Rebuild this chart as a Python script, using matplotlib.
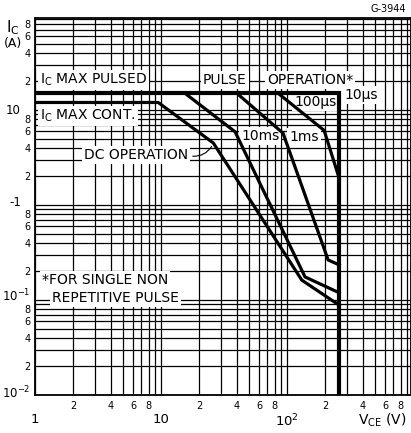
import numpy as np
import matplotlib
matplotlib.use('Agg')
import matplotlib.pyplot as plt
from matplotlib.ticker import FixedLocator, FixedFormatter, NullFormatter

plt.rcParams['font.family'] = ['DejaVu Sans']
plt.rcParams['mathtext.default'] = 'regular'

# --- data (V in volts, I in amps) ---
v_max = 260          # Vce limit (10 us line)
ic_pulsed = 15       # Ic max pulsed
ic_cont = 12         # Ic max continuous

dc_v = [1, 9.5, 26, 131, v_max]
dc_i = [ic_cont, ic_cont, 4.5, 0.162, 0.088]

ms10_v = [15.5, 38.7, 139, v_max]
ms10_i = [ic_pulsed, 5.9, 0.175, 0.119]

ms1_v = [40, 93, 212, v_max]
ms1_i = [ic_pulsed, 5.7, 0.264, 0.234]

us100_v = [85, 197, v_max]
us100_i = [ic_pulsed, 6.1, 1.9]

us10_v = [1, v_max, v_max]
us10_i = [ic_pulsed, ic_pulsed, 0.01]

x_major = [1, 10, 100]
x_major_lbl = ['1', '10', '$10^2$']
y_major = [0.01, 0.1, 1, 10]
y_major_lbl = ['$10^{-2}$', '$10^{-1}$', '-1', '10']
minor_marks = [2, 4, 6, 8]

# figure geometry (pixels of the 411x433 original)
W, H = 411, 433
X0, Y0, PX_DEC_X, PX_DEC_Y = 35, 395, 126, 95


def at(px, py):
    # pixel position in the original -> data coords (for placing labels)
    return 10 ** ((px - X0) / PX_DEC_X), 0.01 * 10 ** ((Y0 - py) / PX_DEC_Y)


fig = plt.figure(figsize=(W / 100, H / 100), dpi=100)
ax = fig.add_axes([X0 / W, (H - Y0) / H, (W - X0) / W, (Y0 - 18) / H])
ax.set_xscale('log')
ax.set_yscale('log')
ax.set_xlim(1, 10 ** ((W - X0) / PX_DEC_X))
ax.set_ylim(0.01, 0.01 * 10 ** ((Y0 - 18) / PX_DEC_Y))

# full log grid
for dec in [1, 10, 100]:
    for k in range(1, 10):
        ax.axvline(dec * k, color='black', lw=0.9, zorder=1)
for dec in [0.01, 0.1, 1, 10]:
    for k in range(1, 10):
        ax.axhline(dec * k, color='black', lw=0.9, zorder=1)

# tick labels
ax.xaxis.set_major_locator(FixedLocator(x_major))
ax.xaxis.set_major_formatter(FixedFormatter(x_major_lbl))
x_minor = [d * m for d in [1, 10, 100] for m in minor_marks]
ax.xaxis.set_minor_locator(FixedLocator(x_minor))
ax.xaxis.set_minor_formatter(FixedFormatter([str(m) for m in minor_marks] * 3))
y_minor = [d * m for d in [0.01, 0.1, 1, 10] for m in minor_marks]
ax.yaxis.set_major_locator(FixedLocator(y_major))
ax.yaxis.set_major_formatter(NullFormatter())
ax.yaxis.set_minor_locator(FixedLocator(y_minor))
ax.yaxis.set_minor_formatter(FixedFormatter([str(m) for m in minor_marks] * 4))
ax.tick_params(which='both', length=0)
ax.tick_params(axis='x', which='major', pad=13, labelsize=9.5)
ax.tick_params(axis='x', which='minor', pad=4, labelsize=7)
ax.tick_params(axis='y', which='minor', pad=3, labelsize=7)
for s in ax.spines.values():
    s.set_linewidth(1.3)

# major y labels sit left of the small ones, as on the sheet
y_lbl_pos = [(30, 393), (30, 296), (21, 203), (21, 111)]
for lbl, (px, py) in zip(y_major_lbl, y_lbl_pos):
    fig.text(px / W, 1 - py / H, lbl, fontsize=8.5, ha='right', va='center')

# SOA curves
lw = 2.3
ax.plot(us10_v, us10_i, color='black', lw=3.0, zorder=4, solid_joinstyle='miter')
ax.plot(dc_v, dc_i, color='black', lw=lw, zorder=4)
ax.plot(ms10_v, ms10_i, color='black', lw=lw, zorder=4)
ax.plot(ms1_v, ms1_i, color='black', lw=lw, zorder=4)
ax.plot(us100_v, us100_i, color='black', lw=lw, zorder=4)

box = dict(facecolor='white', edgecolor='none', pad=1.5)
fs = 10
labels = [
    ('I$_C$ MAX PULSED', 40, 80),
    ('I$_C$ MAX CONT.', 40, 116),
    ('PULSE', 203, 80),
    ('OPERATION*', 267, 80),
    ('100\u03bcs', 294, 102),
    ('10\u03bcs', 344, 95),
    ('10ms', 241, 136),
    ('1ms', 289, 137),
    ('DC OPERATION', 84, 155),
    ('*FOR SINGLE NON', 42, 280),
    ('REPETITIVE PULSE', 52, 298),
]
for txt, px, py in labels:
    ax.text(*at(px, py), txt, fontsize=fs, va='center', ha='left', bbox=box, zorder=3)

ax.annotate('', xy=at(213, 144), xytext=at(190, 156),
            arrowprops=dict(arrowstyle='-', color='black', lw=0.8,
                            connectionstyle='arc3,rad=0.35'), zorder=3)

# axis titles drawn as free text like the original sheet
fig.text(6 / W, 1 - 28 / H, 'I$_C$', fontsize=11, ha='left', va='center')
fig.text(4 / W, 1 - 44 / H, '(A)', fontsize=9, ha='left', va='center')
fig.text(406 / W, 1 - 420 / H, 'V$_{CE}$ (V)', fontsize=10, ha='right', va='center')
fig.text(406 / W, 1 - 9 / H, 'G-3944', fontsize=7, ha='right', va='center')

fig.savefig('out.png', dpi=100)
